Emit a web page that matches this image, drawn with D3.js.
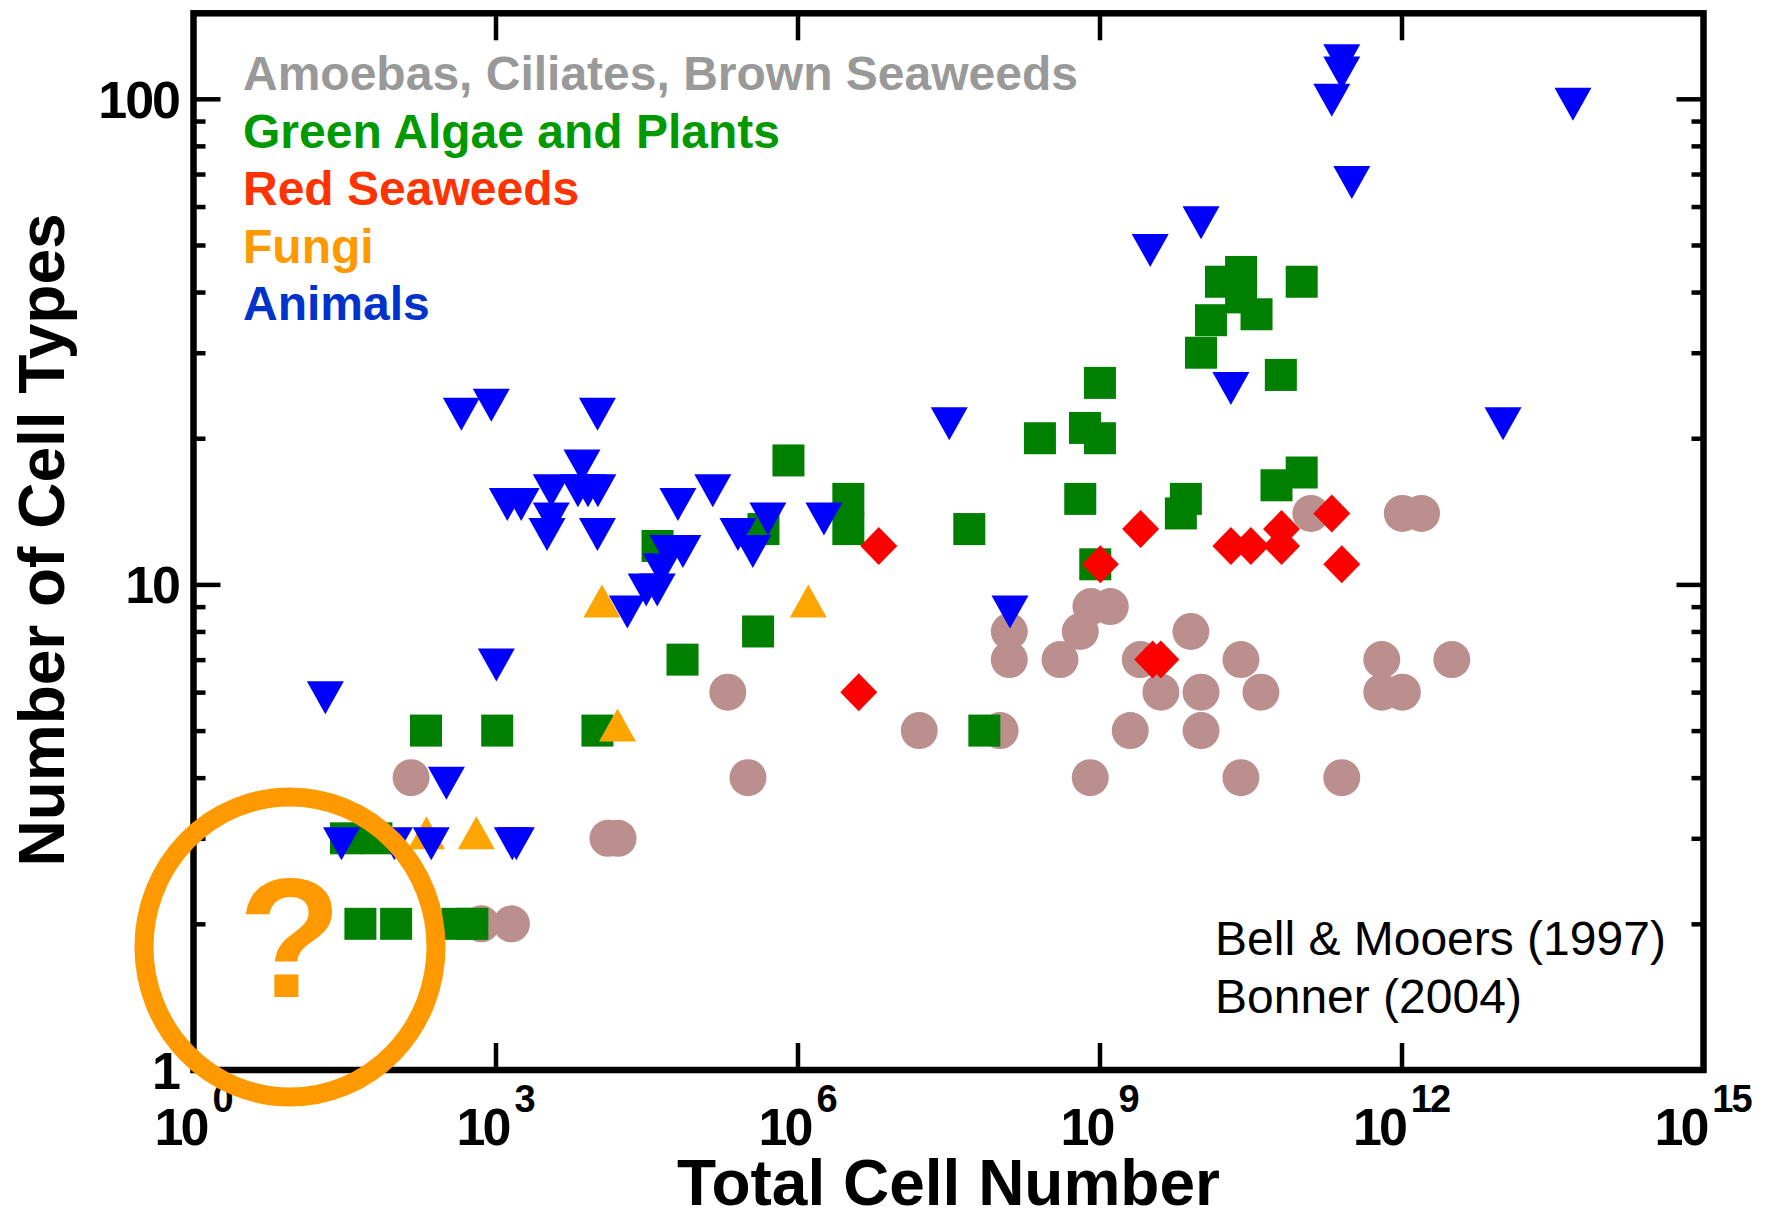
<!DOCTYPE html>
<html>
<head>
<meta charset="utf-8">
<script src="https://cdn.jsdelivr.net/npm/d3@7"></script>
<style>
  html, body { margin: 0; padding: 0; background: #fff; }
  svg { display: block; }
  text { font-family: "Liberation Sans", Arial, Helvetica, sans-serif; }
</style>
</head>
<body>
<svg id="chart" width="1772" height="1212"></svg>
<script>
// ---------------- data: [total cell number, number of cell types] ----------------
const amoebas = [
  [145,4],[3.22e5,4],[2.03e5,6],[1.31e4,3],[1.65e4,3],[723,2],[1.44e3,2],
  [1.27e8,8],[1.27e8,7],[8.22e8,9],[1.28e9,9],[6.44e8,8],[4.05e8,7],[8.09e9,8],
  [2.54e9,7],[2.54e10,7],[4.07e9,6],[1.02e10,6],[4.01e10,6],[6.37e11,7],[6.37e11,6],
  [1.02e12,6],[3.16e12,7],[1.62e7,5],[1.03e8,5],[2.02e9,5],[1.02e10,5],[8.09e8,4],
  [2.54e10,4],[2.55e11,4],[1.26e11,14],[1.02e12,14],[1.58e12,14]
];
const greenPlants = [
  [204,5],[1.04e3,5],[1.03e4,5],[32.7,3],[65.6,3],[45.5,2],[103,2],[418,2],[589,2],
  [8.13e5,18],[3.2e6,15],[3.2e6,13],[4.59e5,13],[4.07e4,12],[4.06e5,8],[7.21e4,7],
  [2.55e10,44],[1.61e10,42],[1.02e11,42],[2.55e10,39],[3.63e10,36],[1.28e10,35],
  [1.02e10,30],[6.33e10,27],[1.01e9,26],[2.56e8,20],[7.17e8,21],[1.01e9,20],
  [1.02e11,17],[5.73e10,16],[6.44e8,15],[7.21e9,15],[6.43e9,14],[5.09e7,13],
  [9.08e8,11],[7.18e7,5]
];
const redSeaweeds = [
  [6.42e6,12],[4.06e6,6],[2.56e9,13],[1.02e9,11],[2.02e10,12],[3.19e10,12],
  [6.43e10,12],[6.43e10,13],[2.03e11,14],[2.55e11,11],[3.37e9,7],[4.07e9,7]
];
const fungi = [
  [1.14e4,9],[1.28e6,9],[1.63e4,5],[206,3],[645,3]
];
const animals = [
  [20.4,6],[29.5,3],[99,3],[230,3],[1.47e3,3],[1.61e3,3],[325,4],[1.02e3,7],
  [458,23],[908,24],[1.03e4,23],[7.23e3,18],[3.58e3,16],[6.59e3,16],[8.29e3,16],
  [1.04e4,16],[1.31e3,15],[1.8e3,15],[3.58e3,14],[3.25e3,13],[1.03e4,13],
  [6.49e4,15],[1.44e5,16],[5.08e5,14],[1.83e6,14],[2.56e5,13],[3.6e5,12],
  [5.16e4,12],[7.27e4,12],[4.43e4,11],[3.14e4,10],[4.04e4,10],[2.04e4,9],
  [3.22e7,22],[1.29e8,9],[3.19e9,50],[1.02e10,57],[2.02e10,26],[2.03e11,102],
  [2.55e11,116],[2.55e11,123],[3.21e11,69],[1.02e13,22],[5.05e13,100]
];

const legendLabels = ["Amoebas, Ciliates, Brown Seaweeds","Green Algae and Plants","Red Seaweeds","Fungi","Animals"];
const xTickExponents = [0,3,6,9,12,15];
const yMajorTicks = [1,10,100];
const yMinorTicks = [2,3,4,5,6,7,8,9,20,30,40,50,60,70,80,90];
const yTickLabels = ["1","10","100"];
const sourceLines = ["Bell & Mooers (1997)","Bonner (2004)"];

// ---------------- layout ----------------
const L = 193.5, R = 1703.5, T = 13.3, B = 1070;
const svg = d3.select("#chart");
const x = d3.scaleLog().domain([1, 1e15]).range([L, R]);
const y = d3.scaleLog().domain([1, 150]).range([B, T]);

// ---------------- markers ----------------
const gMarks = svg.append("g");
gMarks.selectAll("circle.am").data(amoebas).enter().append("circle")
  .attr("cx", d => x(d[0])).attr("cy", d => y(d[1])).attr("r", 18.5)
  .attr("fill", "#bc8f8f");
gMarks.selectAll("rect.gp").data(greenPlants).enter().append("rect")
  .attr("x", d => x(d[0]) - 16).attr("y", d => y(d[1]) - 16)
  .attr("width", 32).attr("height", 32).attr("fill", "#008000");
gMarks.selectAll("path.rs").data(redSeaweeds).enter().append("path")
  .attr("d", "M0,-19L18.5,0L0,19L-18.5,0Z")
  .attr("transform", d => `translate(${x(d[0])},${y(d[1])})`)
  .attr("fill", "#ff0000");
gMarks.selectAll("path.fu").data(fungi).enter().append("path")
  .attr("d", "M0,-22L18.5,11L-18.5,11Z")
  .attr("transform", d => `translate(${x(d[0])},${y(d[1])})`)
  .attr("fill", "#ffa500");
gMarks.selectAll("path.an").data(animals).enter().append("path")
  .attr("d", "M-18.5,-11L18.5,-11L0,22Z")
  .attr("transform", d => `translate(${x(d[0])},${y(d[1])})`)
  .attr("fill", "#0000ff");

// ---------------- axes / frame ----------------
function styleAxis(g) {
  g.select(".domain").remove();
  g.selectAll(".tick line").attr("stroke", "#000").attr("stroke-width", 4.5);
  g.selectAll(".tick text").remove();
}
const xMajor = xTickExponents.slice(1, -1).map(e => Math.pow(10, e));
svg.append("g").attr("transform", `translate(0,${B})`)
  .call(d3.axisBottom(x).tickValues(xMajor).tickSize(-27)).call(styleAxis);
svg.append("g").attr("transform", `translate(0,${T})`)
  .call(d3.axisTop(x).tickValues(xMajor).tickSize(-27)).call(styleAxis);
svg.append("g").attr("transform", `translate(${L},0)`)
  .call(d3.axisLeft(y).tickValues(yMajorTicks.slice(1)).tickSize(-27)).call(styleAxis);
svg.append("g").attr("transform", `translate(${L},0)`)
  .call(d3.axisLeft(y).tickValues(yMinorTicks).tickSize(-12)).call(styleAxis);
svg.append("g").attr("transform", `translate(${R},0)`)
  .call(d3.axisRight(y).tickValues(yMajorTicks.slice(1)).tickSize(-27)).call(styleAxis);
svg.append("g").attr("transform", `translate(${R},0)`)
  .call(d3.axisRight(y).tickValues(yMinorTicks).tickSize(-12)).call(styleAxis);

svg.append("rect").attr("x", L).attr("y", T).attr("width", R - L).attr("height", B - T)
  .attr("fill", "none").attr("stroke", "#000").attr("stroke-width", 6.5);

// y tick labels
svg.append("g").selectAll("text").data(yMajorTicks).enter().append("text")
  .attr("x", 179).attr("y", d => y(d) + 19)
  .attr("text-anchor", "end").attr("font-size", 52).attr("font-weight", "bold")
  .attr("letter-spacing", -2)
  .text((d, i) => yTickLabels[i]);

// x tick labels 10^e
const xl = svg.append("g");
xTickExponents.forEach(e => {
  const t = xl.append("text").attr("y", 1145).attr("font-weight", "bold");
  t.append("tspan").attr("font-size", 52).attr("letter-spacing", -3).text("10");
  t.append("tspan").attr("font-size", 38).attr("dx", 6).attr("dy", -33)
    .attr("letter-spacing", -2).text(String(e));
  const w = t.node().getBBox().width;
  t.attr("x", x(Math.pow(10, e)) - w / 2);
});

// axis titles
svg.append("text").attr("x", (L + R) / 2).attr("y", 1205)
  .attr("text-anchor", "middle").attr("font-size", 64).attr("font-weight", "bold")
  .text("Total Cell Number");
svg.append("text").attr("transform", "translate(64,540) rotate(-90)")
  .attr("text-anchor", "middle").attr("font-size", 64).attr("font-weight", "bold")
  .text("Number of Cell Types");

// legend (text only)
const legendColors = ["#999999", "#009900", "#ff3300", "#ff9900", "#0033cc"];
svg.append("g").selectAll("text").data(legendLabels).enter().append("text")
  .attr("x", 243).attr("y", (d, i) => 90 + i * 57.5)
  .attr("font-size", 48).attr("font-weight", "bold")
  .attr("fill", (d, i) => legendColors[i])
  .text(d => d);

// source note
svg.append("g").selectAll("text").data(sourceLines).enter().append("text")
  .attr("x", 1215).attr("y", (d, i) => 955 + i * 58)
  .attr("font-size", 48).attr("fill", "#000")
  .text(d => d);

// question ring
svg.append("ellipse").attr("cx", 290).attr("cy", 947).attr("rx", 146).attr("ry", 150)
  .attr("fill", "none").attr("stroke", "#ff9900").attr("stroke-width", 19);
svg.append("text").attr("x", 290).attr("y", 997).attr("text-anchor", "middle")
  .attr("font-size", 170).attr("font-weight", "bold").attr("fill", "#ff9900")
  .text("?");
</script>
</body>
</html>
